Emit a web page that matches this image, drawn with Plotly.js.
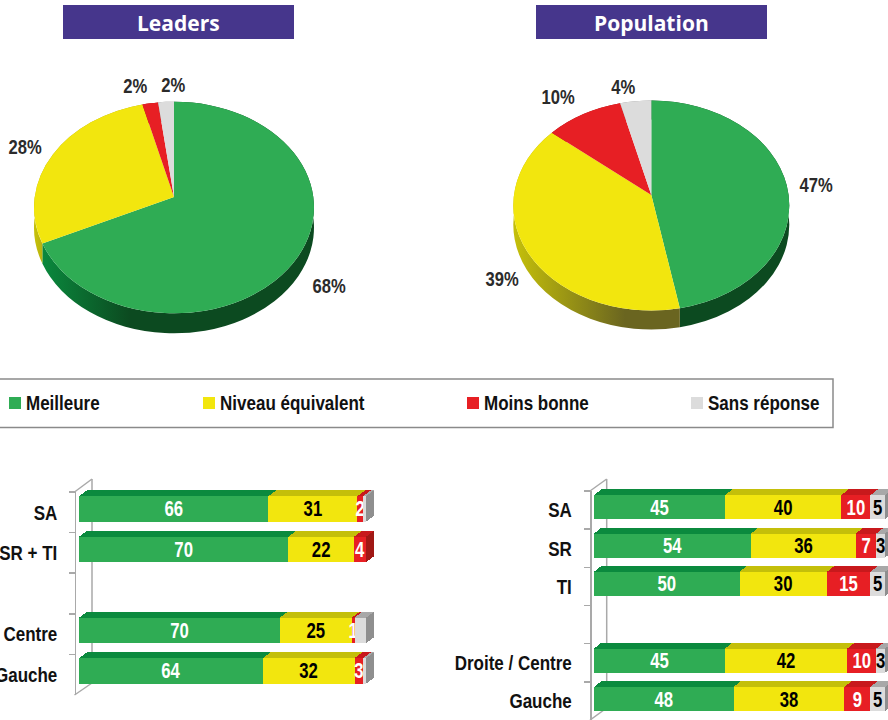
<!DOCTYPE html>
<html><head><meta charset="utf-8">
<script src="https://cdn.plot.ly/plotly-3.0.1.min.js"></script>
<style>html,body{margin:0;padding:0;background:#fff;overflow:hidden}</style>
</head><body><div id="chart" style="width:888px;height:720px"></div>
<script>
// ---------- data ----------
const seriesNames = ['Meilleure', 'Niveau équivalent', 'Moins bonne', 'Sans réponse'];
const pieTitles = ['Leaders', 'Population'];
const leadersPie = [68, 28, 2, 2];
const populationPie = [47, 39, 10, 4];

const leftCategories = ['SA', 'SR + TI', ' ', 'Centre', 'Gauche'];
const leftMeilleure = [66, 70, null, 70, 64];
const leftEquivalent = [31, 22, null, 25, 32];
const leftMoins = [2, 4, null, 1, 3];
const leftSans = [1, 0, null, 4, 1];

const rightCategories = ['SA', 'SR', 'TI', ' ', 'Droite / Centre', 'Gauche'];
const rightMeilleure = [45, 54, 50, null, 45, 48];
const rightEquivalent = [40, 36, 30, null, 42, 38];
const rightMoins = [10, 7, 15, null, 10, 9];
const rightSans = [5, 3, 5, null, 3, 5];

// ---------- style ----------
const FRONT = ['#2fac54', '#f2e60e', '#e71f24', '#dcdcdc'];
const TOP = ['#0b8a3e', '#c4bf0a', '#c8191c', '#a8a8a8'];
const SIDE = ['#0a6a30', '#8f8b08', '#a01815', '#8f8f8f'];
const TXT = ['#fff', '#000', '#fff', '#000'];
const NARROW = '"Liberation Sans",Arial,sans-serif';
const WALL = '#a9a9a9';
const X = p => p / 888, Y = p => 1 - p / 720;

const traces = [], annotations = [], shapes = [];
const layout = {
  width: 888, height: 720, margin: {l: 0, r: 0, t: 0, b: 0},
  paper_bgcolor: '#fff', plot_bgcolor: 'rgba(0,0,0,0)', showlegend: false,
  barmode: 'stack', barnorm: 'percent', bargap: 0.37,
  annotations, shapes
};

// ---------- pies ----------
const pieGeom = [
  {cx: 174, cy: 207.5, rx: 140, ry: 105.8, a: 0.10, h: 20},
  {cx: 651.3, cy: 205.5, rx: 138, ry: 105, a: 0.10, h: 19}
];
[leadersPie, populationPie].forEach((vals, i) => {
  const g = pieGeom[i];
  const dom = {x: [X(g.cx - g.rx), X(g.cx + g.rx)], y: [Y(g.cy + g.rx), Y(g.cy - g.rx)]};
  [true, false].forEach(isWall => {
    traces.push({type: 'pie', values: vals, labels: seriesNames, sort: false, direction: 'clockwise',
      rotation: 0, textinfo: 'none', hoverinfo: 'skip', domain: dom,
      marker: {colors: isWall ? SIDE : FRONT, line: {width: 0}}});
  });
});
const pieLabelPos = [
  [[329, 287], [25, 148], [135, 86], [173, 85]],
  [[816, 185], [502, 280], [558, 98], [623, 87]]
];
[leadersPie, populationPie].forEach((vals, i) => vals.forEach((v, j) => {
  annotations.push({xref: 'paper', yref: 'paper', x: X(pieLabelPos[i][j][0]), y: Y(pieLabelPos[i][j][1] - 1),
    text: v + '%', showarrow: false, xanchor: 'center', yanchor: 'middle',
    font: {family: NARROW, size: 21, color: '#2b2b2b', weight: 700}});
}));

// ---------- title bands ----------
[[63, 294], [536, 767]].forEach((r, i) => {
  shapes.push({type: 'rect', xref: 'paper', yref: 'paper', x0: X(r[0]), x1: X(r[1]), y0: Y(39), y1: Y(5),
    fillcolor: '#46368c', line: {width: 0}});
  annotations.push({xref: 'paper', yref: 'paper', x: X((r[0] + r[1]) / 2), y: Y(23), text: pieTitles[i],
    showarrow: false, xanchor: 'center', yanchor: 'middle',
    font: {family: '"Open Sans",sans-serif', size: 21, color: '#fff', weight: 700}});
});

// ---------- legend ----------
shapes.push({type: 'rect', xref: 'paper', yref: 'paper', x0: X(-3), x1: X(833), y0: Y(427.5), y1: Y(379),
  line: {color: '#8a8a8a', width: 1.5}, fillcolor: 'rgba(0,0,0,0)'});
[9, 203, 467, 691].forEach((lx, i) => {
  shapes.push({type: 'rect', xref: 'paper', yref: 'paper', x0: X(lx), x1: X(lx + 12), y0: Y(409), y1: Y(397),
    fillcolor: FRONT[i], line: {width: 0}});
  annotations.push({xref: 'paper', yref: 'paper', x: X(lx + 14.5), y: Y(403), text: seriesNames[i],
    showarrow: false, xanchor: 'left', yanchor: 'middle',
    font: {family: NARROW, size: 20, color: '#111', weight: 700}});
});

// ---------- bar panels ----------
const panels = [
  {cats: leftCategories, series: [leftMeilleure, leftEquivalent, leftMoins, leftSans], showSans: false,
   xa: 'x', xKey: 'xaxis', firstY: 1, barL: 79, barR: 366, roomR: 380, barTop: 488.7, barBot: 691.2,
   axisX: 74.5, axisTop: 492, axisBot: 695, backX: 92, backTop: 479, backBot: 683, dx: 8, dy: 6, standoff: 13},
  {cats: rightCategories, series: [rightMeilleure, rightEquivalent, rightMoins, rightSans], showSans: true,
   xa: 'x2', xKey: 'xaxis2', firstY: 5, barL: 594, barR: 885, roomR: 888, barTop: 488.1, barBot: 718.2,
   axisX: 590, axisTop: 491, axisBot: 720, backX: 606.7, backTop: 479, backBot: 708, dx: 7.5, dy: 6, standoff: 14}
];
const yKey = n => n === 1 ? 'yaxis' : 'yaxis' + n;
const yRef = n => n === 1 ? 'y' : 'y' + n;
panels.forEach(p => {
  layout[p.xKey] = {domain: [X(p.barL), X(p.roomR)], range: [0, 100 * (p.roomR - p.barL) / (p.barR - p.barL)],
    visible: false, fixedrange: true, anchor: yRef(p.firstY + 3)};
  const n = p.cats.length;
  const catRange = [n - 0.5, -0.5];
  [[p.backX, p.backTop, p.backX, p.backBot], [p.axisX, p.axisTop, p.backX, p.backTop],
   [p.axisX, p.axisBot, p.backX, p.backBot]].forEach(s => shapes.push({type: 'line', layer: 'below',
    xref: 'paper', yref: 'paper', x0: X(s[0]), y0: Y(s[1]), x1: X(s[2]), y1: Y(s[3]),
    line: {color: WALL, width: 1.5}}));
  layout[yKey(p.firstY)] = {domain: [Y(p.axisBot), Y(p.axisTop)], type: 'category', categoryorder: 'array',
    categoryarray: p.cats, range: catRange, anchor: 'free', position: X(p.axisX), side: 'left',
    showline: true, linecolor: WALL, linewidth: 1.5, ticks: 'outside', ticklen: 6, tickcolor: WALL, tickwidth: 1.5,
    tickson: 'boundaries', showgrid: false, zeroline: false, ticklabelstandoff: p.standoff, fixedrange: true,
    tickfont: {family: NARROW, size: 21, color: '#111', weight: 700}};
  traces.push({type: 'scatter', mode: 'none', x: p.cats.map(() => 0), y: p.cats, xaxis: p.xa, yaxis: yRef(p.firstY),
    hoverinfo: 'skip'});
  [SIDE, TOP, FRONT].forEach((colors, layer) => {
    const yN = p.firstY + 1 + layer;
    layout[yKey(yN)] = {domain: [Y(p.barBot), Y(p.barTop)], type: 'category', categoryorder: 'array',
      categoryarray: p.cats, range: catRange, visible: false, anchor: p.xa, fixedrange: true};
    p.series.forEach((vals, j) => {
      const tr = {type: 'bar', orientation: 'h', x: vals, y: p.cats, xaxis: p.xa, yaxis: yRef(yN),
        marker: {color: colors[j], line: {width: 0}}, hoverinfo: 'skip'};
      if (layer === 2 && (j < 3 || p.showSans)) {
        tr.text = vals.map(v => v === null || v === 0 ? '' : String(v));
        tr.textposition = 'inside'; tr.insidetextanchor = 'middle'; tr.constraintext = 'none'; tr.textangle = 0;
        tr.cliponaxis = false;
        tr.insidetextfont = {family: NARROW, size: 22, color: TXT[j], weight: 700};
      }
      traces.push(tr);
    });
  });
});

// ---------- 3-D look: reshape what the library drew, from the library's own geometry ----------
function nums(d) { return (d.match(/-?\d*\.?\d+(?:e-?\d+)?/g) || []).map(Number); }
function fmt(a, b) { return a.toFixed(2) + ',' + b.toFixed(2); }

function shapePies(gd) {
  const svg = gd.querySelector('.main-svg');
  const defs = svg.querySelector('defs');
  const NS = 'http://www.w3.org/2000/svg';
  function grad(id, x1, x2, c1, c2) {
    const lg = document.createElementNS(NS, 'linearGradient');
    lg.setAttribute('id', id); lg.setAttribute('gradientUnits', 'userSpaceOnUse');
    lg.setAttribute('x1', x1); lg.setAttribute('x2', x2); lg.setAttribute('y1', 0); lg.setAttribute('y2', 0);
    [[0, c1], [1, c2]].forEach(s => {
      const st = document.createElementNS(NS, 'stop');
      st.setAttribute('offset', s[0]); st.setAttribute('stop-color', s[1]); lg.appendChild(st);
    });
    defs.appendChild(lg);
  }
  grad('wg0', 40, 130, '#0a8a3e', '#0c4a20');
  grad('wy0', 36, 46, '#c4bf0a', '#b0aa10');
  grad('wg1', 600, 800, '#0c4a20', '#0c4a20');
  grad('wy1', 515, 625, '#c4bf0a', '#6a6520');

  gd.querySelectorAll('.pielayer .trace').forEach((tr, t) => {
    const g = pieGeom[Math.floor(t / 2)], isWall = t % 2 === 0, pi = Math.floor(t / 2);
    const map = (u, v) => {
      const w = 1 - g.a * v, s = Math.sqrt(1 - g.a * g.a);
      return [g.cx + g.rx * u * s / w, g.cy + g.ry * (v - g.a) / w];
    };
    tr.querySelectorAll('.slice').forEach((sl, si) => {
      sl.removeAttribute('transform');
      const path = sl.querySelector('path.surface');
      const n = nums(path.getAttribute('d'));
      const x0 = n[2], y0 = n[3], dx = n[9], dy = n[10];
      const a0 = Math.atan2(y0, x0);
      let a1 = Math.atan2(y0 + dy, x0 + dx);
      while (a1 < a0) a1 += 2 * Math.PI;
      const am = (a0 + a1) / 2;
      const P0 = map(Math.cos(a0), Math.sin(a0)), Pm = map(Math.cos(am), Math.sin(am)), P1 = map(Math.cos(a1), Math.sin(a1));
      const apex = map(0, 0);
      const arc = 'A' + g.rx + ',' + g.ry + ' 0 0 ';
      let d;
      if (isWall) {
        const h = g.h;
        d = 'M' + fmt(P0[0], P0[1]) + arc + '1 ' + fmt(Pm[0], Pm[1]) + arc + '1 ' + fmt(P1[0], P1[1]) +
            'L' + fmt(P1[0], P1[1] + h) + arc + '0 ' + fmt(Pm[0], Pm[1] + h) + arc + '0 ' + fmt(P0[0], P0[1] + h) + 'Z';
        if (si === 0) path.style.fill = 'url(#wg' + pi + ')';
        if (si === 1) path.style.fill = 'url(#wy' + pi + ')';
      } else {
        d = 'M' + fmt(P0[0], P0[1]) + arc + '1 ' + fmt(Pm[0], Pm[1]) + arc + '1 ' + fmt(P1[0], P1[1]) +
            'L' + fmt(apex[0], apex[1]) + 'Z';
      }
      path.setAttribute('d', d);
    });
  });
}

function shapeBars(gd) {
  panels.forEach(p => {
    [[p.firstY + 1, 'side'], [p.firstY + 2, 'top']].forEach(([yN, kind]) => {
      const cls = '.subplot.' + p.xa + yRef(yN);
      gd.querySelectorAll(cls + ' .barlayer .point path').forEach(path => {
        const d = path.getAttribute('d') || '';
        if (d.indexOf('V') < 0) return;
        const n = nums(d);
        const xa = Math.min(n[0], n[3]), xb = Math.max(n[0], n[3]);
        const yt = Math.min(n[1], n[2]), yb = Math.max(n[1], n[2]);
        const dx = p.dx, dy = p.dy;
        if (kind === 'top') {
          path.setAttribute('d', 'M' + fmt(xa, yt) + 'L' + fmt(xa + dx, yt - dy) + 'L' + fmt(xb + dx, yt - dy) + 'L' + fmt(xb, yt) + 'Z');
        } else {
          path.setAttribute('d', 'M' + fmt(xb, yt) + 'L' + fmt(xb + dx, yt - dy) + 'L' + fmt(xb + dx, yb - dy) + 'L' + fmt(xb, yb) + 'Z');
        }
      });
    });
  });
}

// the reference lettering is a condensed bold: squeeze each text about its anchor
function squeeze(el, k, anchor) {
  const b = el.getBBox();
  const ax = anchor === 'left' ? b.x : anchor === 'right' ? b.x + b.width : b.x + b.width / 2;
  const old = el.getAttribute('transform') || '';
  el.setAttribute('transform', old + ' translate(' + ax + ',0) scale(' + k + ',1) translate(' + (-ax) + ',0)');
}
function narrowTexts(gd) {
  gd.querySelectorAll('g[class$="tick"] text').forEach(t => squeeze(t, 0.81, 'right'));
  gd.querySelectorAll('.barlayer text').forEach(t => squeeze(t, 0.76, 'middle'));
  gd.querySelectorAll('.annotation-text').forEach(t => {
    const s = t.textContent;
    if (pieTitles.indexOf(s) >= 0) return;
    if (seriesNames.indexOf(s) >= 0) squeeze(t, 0.85, 'left');
    else squeeze(t, 0.79, 'middle');
  });
}

Plotly.newPlot('chart', traces, layout, {staticPlot: true, displayModeBar: false}).then(gd => {
  shapePies(gd);
  shapeBars(gd);
  narrowTexts(gd);
});
</script>
</body></html>
